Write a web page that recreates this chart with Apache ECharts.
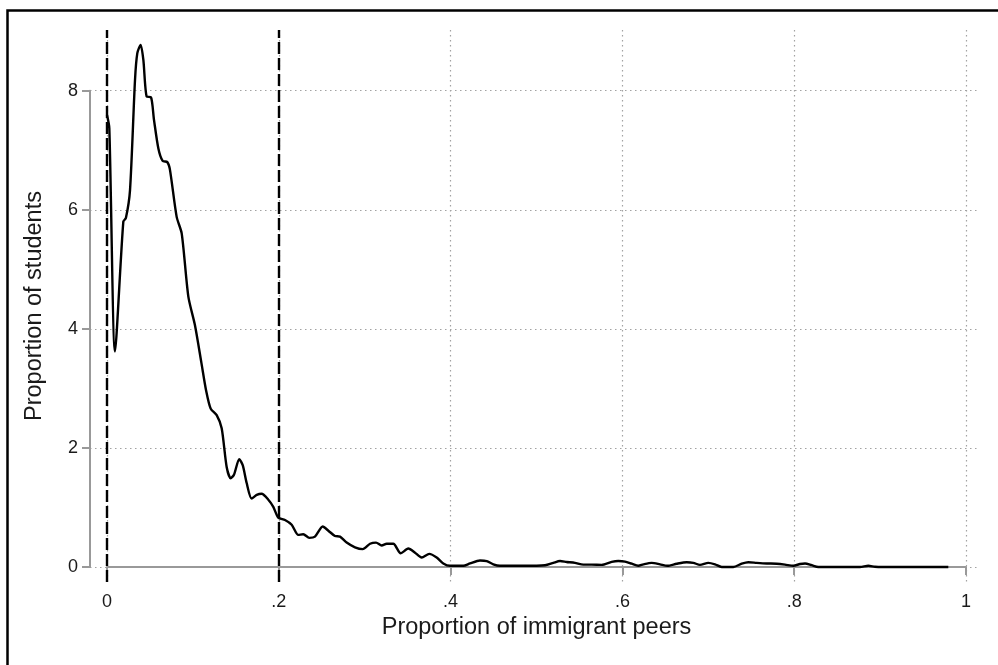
<!DOCTYPE html>
<html>
<head>
<meta charset="utf-8">
<title>Proportion of immigrant peers</title>
<script src="https://cdn.jsdelivr.net/npm/echarts@6/dist/echarts.min.js"></script>
<style>
    html, body { margin: 0; padding: 0; background: #fff; }
    #chart { width: 998px; height: 665px; }
</style>
</head>
<body>
<div id="chart"></div>
<script>
// density of students by share of immigrant peers
var peerShare = [
    0, 0.0027, 0.0093, 0.019, 0.022, 0.0268, 0.0326, 0.0353, 0.0392, 0.0423,
    0.0462, 0.0512, 0.0547, 0.0598, 0.0648, 0.0702, 0.0733, 0.0811, 0.087, 0.0947,
    0.1024, 0.110, 0.1153, 0.1207, 0.1277, 0.1335, 0.1393, 0.144, 0.1478, 0.154,
    0.158, 0.1626, 0.1684, 0.1743, 0.180, 0.1878, 0.1936, 0.1994, 0.2072, 0.215,
    0.2227, 0.2285, 0.2355, 0.2421, 0.2511, 0.2577, 0.2654, 0.2712, 0.279, 0.2887,
    0.2976, 0.3062, 0.3132, 0.3198, 0.3256, 0.3333, 0.3419, 0.3508, 0.3586, 0.3663,
    0.3752, 0.3838, 0.3915, 0.3993, 0.4148, 0.4226, 0.4342, 0.442, 0.4497, 0.4575,
    0.4847, 0.51, 0.5196, 0.5274, 0.5351, 0.5448, 0.5545, 0.5642, 0.5759, 0.5875,
    0.5952, 0.603, 0.6108, 0.6185, 0.6244, 0.6341, 0.6438, 0.6523, 0.6632, 0.6749,
    0.6826, 0.6903, 0.70, 0.7078, 0.7156, 0.7291, 0.7389, 0.7466, 0.7563, 0.768,
    0.7796, 0.7893, 0.799, 0.8068, 0.8126, 0.8204, 0.8281, 0.8766, 0.8863, 0.894,
    0.9019, 0.9794
];
var studentDensity = [
    7.59, 7.37, 3.62, 5.80, 5.86, 6.33, 8.18, 8.63, 8.77, 8.52,
    7.90, 7.89, 7.51, 7.03, 6.82, 6.80, 6.67, 5.88, 5.60, 4.54,
    4.06, 3.42, 2.97, 2.66, 2.55, 2.33, 1.68, 1.49, 1.55, 1.81,
    1.71, 1.41, 1.15, 1.21, 1.23, 1.13, 1.01, 0.83, 0.79, 0.71,
    0.54, 0.55, 0.49, 0.51, 0.68, 0.61, 0.52, 0.51, 0.41, 0.33,
    0.30, 0.39, 0.41, 0.36, 0.39, 0.39, 0.23, 0.31, 0.24, 0.16,
    0.22, 0.16, 0.06, 0.02, 0.02, 0.06, 0.11, 0.10, 0.045, 0.02,
    0.02, 0.03, 0.07, 0.10, 0.085, 0.07, 0.04, 0.04, 0.035, 0.085,
    0.10, 0.09, 0.055, 0.02, 0.045, 0.07, 0.045, 0.02, 0.055, 0.08,
    0.07, 0.035, 0.07, 0.045, 0, 0, 0.055, 0.08, 0.07, 0.06,
    0.055, 0.04, 0.02, 0.05, 0.06, 0.03, 0, 0, 0.02, 0.005,
    0, 0
];
// vertical reference lines
var refLines = [0, 0.205];
var xTicks = [0, 0.2, 0.4, 0.6, 0.8, 1];
var yTicks = [0, 2, 4, 6, 8];

var FONT = "'Liberation Sans', Arial, sans-serif";
var AXIS_GRAY = "#999";
var GRID_GRAY = "#a2a2a2";

function stataLabel(v) {
    if (v === 0 || v === 1) return String(v);
    return String(+v.toFixed(1)).replace(/^0/, "");
}

var points = [];
peerShare.forEach(function(x, i) {
    points.push([x, studentDensity[i]]);
});

var option = {
    backgroundColor: "#fff",
    animation: false,
    textStyle: { fontFamily: FONT },
    graphic: [
        {
            type: "rect",
            shape: { x: 7.5, y: 10.5, width: 1200, height: 1000 },
            style: { fill: "none", stroke: "#000", lineWidth: 2.5 },
            silent: true
        }
    ],
    grid: [
        // data grid: x 0..1 spans the x axis line
        { left: 107, right: 32, top: 30, bottom: 83 },
        // y axis grid: 0..8
        { left: 90, right: 18, top: 90.7, bottom: 98 }
    ],
    xAxis: [
        {
            gridIndex: 0,
            type: "value",
            min: 0,
            max: 1,
            interval: 0.2,
            name: "Proportion of immigrant peers",
            nameLocation: "middle",
            nameGap: 34,
            nameTextStyle: { fontSize: 23.5, color: "#1a1a1a", fontFamily: FONT },
            axisLine: { show: true, lineStyle: { color: AXIS_GRAY, width: 2 } },
            axisTick: { show: true, length: 8, lineStyle: { color: AXIS_GRAY, width: 2 } },
            axisLabel: {
                fontSize: 18,
                color: "#1a1a1a",
                margin: 11,
                formatter: stataLabel,
                customValues: xTicks
            },
            splitLine: { show: true, lineStyle: { color: GRID_GRAY, width: 1.2, type: [1.5, 3.5] } }
        },
        {
            gridIndex: 1,
            type: "value",
            min: 0,
            max: 1,
            show: false
        }
    ],
    yAxis: [
        {
            gridIndex: 0,
            type: "value",
            min: -0.2519,
            max: 9.019,
            name: "Proportion of students",
            nameLocation: "middle",
            nameGap: 60,
            nameTextStyle: { fontSize: 23.5, color: "#1a1a1a", fontFamily: FONT },
            axisLine: { show: false },
            axisTick: { show: false },
            axisLabel: { show: false },
            splitLine: { show: false }
        },
        {
            gridIndex: 1,
            type: "value",
            min: 0,
            max: 8,
            interval: 2,
            axisLine: { show: true, lineStyle: { color: AXIS_GRAY, width: 2 } },
            axisTick: { show: true, length: 8, lineStyle: { color: AXIS_GRAY, width: 2 } },
            axisLabel: { fontSize: 18, color: "#1a1a1a", margin: 12, customValues: yTicks },
            splitLine: { show: true, lineStyle: { color: GRID_GRAY, width: 1.2, type: [1.5, 3.5] } }
        }
    ],
    series: [
        {
            type: "line",
            xAxisIndex: 0,
            yAxisIndex: 0,
            data: points,
            showSymbol: false,
            smooth: 0.25,
            lineStyle: { color: "#000", width: 2.4 },
            z: 5,
            markLine: {
                silent: true,
                symbol: ["none", "none"],
                label: { show: false },
                lineStyle: { color: "#000", width: 2.4, type: [12, 4] },
                data: refLines.map(function(x) { return { xAxis: x }; })
            }
        }
    ]
};

echarts.init(document.getElementById("chart")).setOption(option);
</script>
</body>
</html>
